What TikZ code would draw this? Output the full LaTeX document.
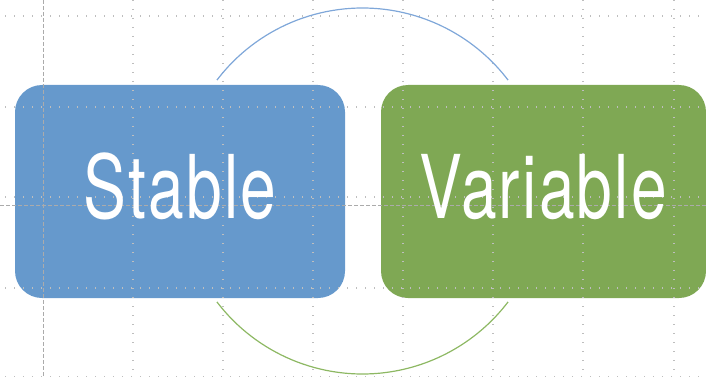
\documentclass[tikz,border=0pt]{standalone}
\usepackage{fontspec}
\newfontfamily\boxfont[FakeStretch=0.73, LetterSpace=2.5]{TeX Gyre Heros}
\definecolor{boxblue}{HTML}{6699CC}
\definecolor{boxgreen}{HTML}{7FA854}
\definecolor{arcblue}{HTML}{7FA7D9}
\definecolor{arcgreen}{HTML}{8DB863}
\definecolor{gridgray}{HTML}{BEBEBE}
\tikzset{
  box/.style={rectangle, rounded corners=27pt, inner sep=0pt},
  lbl/.style={anchor=base, text=white, inner sep=0pt, font=\boxfont\fontsize{88}{88}\selectfont},
  dots/.style={gridgray, line width=1.2pt, dash pattern=on 1.3pt off 7.7pt},
  guide/.style={gridgray!90!black, line width=1pt, dash pattern=on 4pt off 2pt},
}
\begin{document}
\begin{tikzpicture}[x=1pt,y=-1pt]
\useasboundingbox (0,0) rectangle (706,377);
\node[box, fill=boxblue, minimum width=330pt, minimum height=213pt] (box0) at (180,191.5){};
\node[box, fill=boxgreen, minimum width=325pt, minimum height=213pt] (box1) at (543.5,191.5){};
% grid
\draw[dots] (133,0) -- (133,377);
\draw[dots] (223,0) -- (223,377);
\draw[dots] (313,0) -- (313,377);
\draw[dots] (403,0) -- (403,377);
\draw[dots] (493,0) -- (493,377);
\draw[dots] (583,0) -- (583,377);
\draw[dots] (674,0) -- (674,377);
\draw[dots] (5,16) -- (706,16);
\draw[dots] (5,107) -- (706,107);
\draw[dots] (5,197) -- (706,197);
\draw[dots] (5,288) -- (706,288);
\draw[dots] (5,377) -- (706,377);
\draw[guide] (43,0) -- (43,377);
\draw[guide] (0,205) -- (706,205);
% arcs
\coordinate (ctr) at (362.5,191);
\draw[arcblue, line width=1.2pt] (ctr) ++(217.3:183) arc[start angle=217.3, end angle=322.7, radius=183];
\draw[arcgreen, line width=1.2pt] (ctr) ++(142.7:183) arc[start angle=142.7, end angle=37.3, radius=183];
\node[lbl] (txt0) at (180,218){Stable};
\node[lbl] (txt1) at (543.5,218){Variable};
\end{tikzpicture}
\end{document}
